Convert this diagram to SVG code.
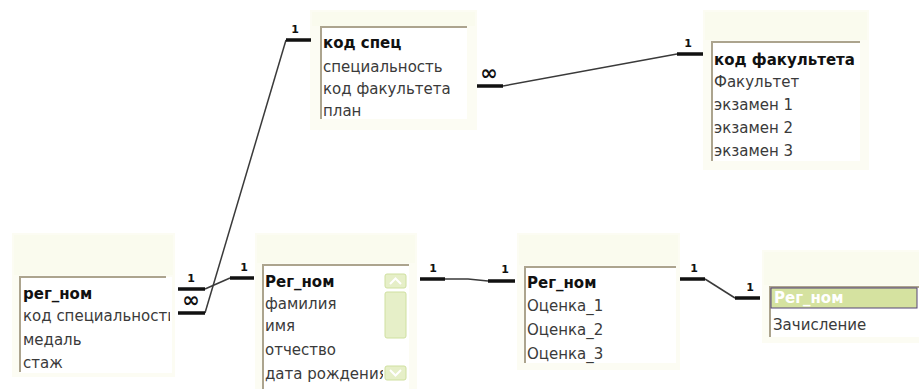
<svg xmlns="http://www.w3.org/2000/svg" width="919" height="389" viewBox="0 0 919 389">
  <style>
    .frame { fill: #fcfcf3; }
    .title { fill: #fafbee; }
    .list { fill: #ffffff; }
    .edge { stroke: #aca48e; stroke-width: 2; fill: none; }
    .fld { font-family: "DejaVu Sans", Verdana, sans-serif; font-size: 15px; fill: #3a3a3a; }
    .key { font-weight: bold; fill: #111111; }
    .sel { fill: #ffffff; font-weight: bold; }
    .link { stroke: #3a3a3a; stroke-width: 1.5; fill: none; }
    .bar { stroke: #111111; stroke-width: 3.5; fill: none; }
    .card { font-family: "DejaVu Sans", Verdana, sans-serif; font-size: 11px; font-weight: bold; fill: #111111; text-anchor: middle; }
    .many { font-size: 21px; }
    .sb { fill: #e6efc8; stroke: #cfe0a0; stroke-width: 1; }
    .sbArrow { stroke: #ffffff; stroke-width: 2; fill: none; }
  </style>
  <defs>
    <clipPath id="clipSpec"><rect x="321" y="27" width="145" height="100"/></clipPath>
    <clipPath id="clipFac"><rect x="712" y="42" width="148" height="125"/></clipPath>
    <clipPath id="clipApp"><rect x="20" y="277" width="150" height="100"/></clipPath>
    <clipPath id="clipPers"><rect x="263" y="265" width="120" height="124"/></clipPath>
    <clipPath id="clipGrade"><rect x="525" y="267" width="150" height="100"/></clipPath>
    <clipPath id="clipEnr"><rect x="770" y="287" width="149" height="60"/></clipPath>
  </defs>

  <rect width="919" height="389" fill="#ffffff"/>

  <!-- specialities table -->
  <g id="spec">
    <rect class="frame" x="310" y="10" width="167" height="120"/>
    <rect class="title" x="312" y="12" width="163" height="14"/>
    <rect class="list" x="321" y="27" width="146" height="92"/>
    <path class="edge" d="M321,119 V27 H467"/>
    <g clip-path="url(#clipSpec)">
      <text class="fld key" x="323" y="48">код спец</text>
      <text class="fld" x="323" y="72">специальность</text>
      <text class="fld" x="323" y="94">код факультета</text>
      <text class="fld" x="323" y="116">план</text>
    </g>
  </g>

  <!-- faculties table -->
  <g id="faculty">
    <rect class="frame" x="703" y="10" width="166" height="160"/>
    <rect class="title" x="705" y="12" width="162" height="28"/>
    <rect class="list" x="712" y="42" width="148" height="119"/>
    <path class="edge" d="M712,161 V42 H860"/>
    <g clip-path="url(#clipFac)">
      <text class="fld key" x="714" y="65">код факультета</text>
      <text class="fld" x="714" y="87">Факультет</text>
      <text class="fld" x="714" y="110">экзамен 1</text>
      <text class="fld" x="714" y="133">экзамен 2</text>
      <text class="fld" x="714" y="156">экзамен 3</text>
    </g>
  </g>

  <!-- applicants table -->
  <g id="applicant">
    <rect class="frame" x="12" y="233" width="163" height="144"/>
    <rect class="title" x="14" y="235" width="159" height="40"/>
    <rect class="list" x="20" y="277" width="152" height="96"/>
    <path class="edge" d="M20,372 V277 H166"/>
    <g clip-path="url(#clipApp)">
      <text class="fld key" x="23" y="299">рег_ном</text>
      <text class="fld" x="23" y="321">код специальности</text>
      <text class="fld" x="23" y="345">медаль</text>
      <text class="fld" x="23" y="368">стаж</text>
    </g>
  </g>

  <!-- personal data table -->
  <g id="person">
    <rect class="frame" x="255" y="233" width="162" height="156"/>
    <rect class="title" x="257" y="235" width="158" height="28"/>
    <rect class="list" x="263" y="265" width="146" height="124"/>
    <path class="edge" d="M263,389 V265 H409"/>
    <g clip-path="url(#clipPers)">
      <text class="fld key" x="265" y="287">Рег_ном</text>
      <text class="fld" x="265" y="309">фамилия</text>
      <text class="fld" x="265" y="331">имя</text>
      <text class="fld" x="265" y="355">отчество</text>
      <text class="fld" x="265" y="379">дата рождения</text>
    </g>
    <!-- scroll bar -->
    <rect class="sb" x="385" y="274" width="21" height="14" rx="2"/>
    <path class="sbArrow" d="M390,284 L395.5,278.5 L401,284"/>
    <rect class="sb" x="385" y="292" width="21" height="46" rx="2"/>
    <rect class="sb" x="385" y="366" width="21" height="14" rx="2"/>
    <path class="sbArrow" d="M390,370 L395.5,375.5 L401,370"/>
  </g>

  <!-- grades table -->
  <g id="grades">
    <rect class="frame" x="517" y="233" width="163" height="137"/>
    <rect class="title" x="519" y="235" width="159" height="30"/>
    <rect class="list" x="525" y="267" width="151" height="96"/>
    <path class="edge" d="M525,363 V267 H676"/>
    <g clip-path="url(#clipGrade)">
      <text class="fld key" x="527" y="288">Рег_ном</text>
      <text class="fld" x="527" y="311">Оценка_1</text>
      <text class="fld" x="527" y="335">Оценка_2</text>
      <text class="fld" x="527" y="359">Оценка_3</text>
    </g>
  </g>

  <!-- enrolment table -->
  <g id="enrol">
    <rect class="frame" x="762" y="250" width="157" height="93"/>
    <rect class="title" x="764" y="252" width="155" height="33"/>
    <rect class="list" x="770" y="287" width="149" height="50"/>
    <path class="edge" d="M770,337 V287 H919"/>
    <g clip-path="url(#clipEnr)">
      <rect x="771" y="288" width="146" height="20" fill="#d5e2a0" stroke="#554477" stroke-width="1"/>
      <text class="fld sel" x="774" y="303">Рег_ном</text>
      <text class="fld" x="773" y="330">Зачисление</text>
    </g>
  </g>

  <!-- relationships -->
  <g id="connectors">
    <!-- applicant.код специальности (many) to spec.код спец (one) -->
    <path class="link" d="M205,313 L286,40"/>
    <path class="bar" d="M178,313 H205 M286,40 H311"/>
    <text class="card many" x="191" y="307">∞</text>
    <text class="card" x="295" y="33">1</text>

    <!-- spec.код факультета (many) to faculty (one) -->
    <path class="link" d="M503,86 L677,54"/>
    <path class="bar" d="M477,86 H503 M677,54 H703"/>
    <text class="card many" x="489" y="80">∞</text>
    <text class="card" x="688" y="47">1</text>

    <!-- applicant.рег_ном to person.Рег_ном (one to one) -->
    <path class="link" d="M205,289 L230,278"/>
    <path class="bar" d="M178,289 H205 M230,278 H254"/>
    <text class="card" x="191" y="282">1</text>
    <text class="card" x="244" y="271">1</text>

    <!-- person.Рег_ном to grades.Рег_ном -->
    <path class="link" d="M445,279 H468 L488,281"/>
    <path class="bar" d="M420,279 H445 M488,281 H515"/>
    <text class="card" x="433" y="272">1</text>
    <text class="card" x="505" y="273">1</text>

    <!-- grades.Рег_ном to enrol.Рег_ном -->
    <path class="link" d="M705,279 L735,298"/>
    <path class="bar" d="M680,279 H705 M735,298 H760"/>
    <text class="card" x="694" y="272">1</text>
    <text class="card" x="750" y="291">1</text>
  </g>
</svg>
